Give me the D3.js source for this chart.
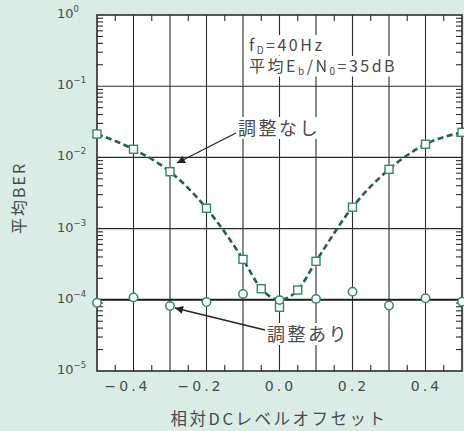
<!DOCTYPE html>
<html><head><meta charset="utf-8">
<script src="https://cdn.jsdelivr.net/npm/d3@7"></script>
<style>
html,body{margin:0;padding:0;background:#d9ece6;}
svg{display:block;}
</style></head>
<body>
<svg id="chart" width="464" height="431"></svg>
<script>
// ---- data ----
const xTickValues = [-0.4, -0.2, 0, 0.2, 0.4];
const xGridValues = [-0.4, -0.3, -0.2, -0.1, 0, 0.1, 0.2, 0.3, 0.4];
const yTickExponents = [0, -1, -2, -3, -4, -5];
const offsetsNoAdj = [-0.5, -0.4, -0.3, -0.2, -0.1, -0.05, 0, 0.05, 0.1, 0.2, 0.3, 0.4, 0.5];
const berNoAdj = [0.0213, 0.0130, 0.0063, 0.00193, 3.7e-4, 1.43e-4, 7.85e-5, 1.37e-4, 3.47e-4, 0.0020, 0.0068, 0.0153, 0.0225];
const fitNoAdj = [0.0213, 0.0130, 0.0063, 0.00193, 3.7e-4, 1.43e-4, 1.0e-4, 1.37e-4, 3.47e-4, 0.0020, 0.0068, 0.0153, 0.0225];
const offsetsAdj = [-0.5, -0.4, -0.3, -0.2, -0.1, 0, 0.1, 0.2, 0.3, 0.4, 0.5];
const berAdj = [9.1e-5, 1.08e-4, 8.2e-5, 9.3e-5, 1.21e-4, 9.9e-5, 1.03e-4, 1.30e-4, 8.3e-5, 1.05e-4, 9.4e-5];
const fitAdj = [1e-4, 1e-4];
const fitAdjOffsets = [-0.5, 0.5];
const labelNoAdj = "調整なし";
const labelAdj = "調整あり";
const xTitle = "相対DCレベルオフセット";
const yTitle = "平均BER";

// ---- layout ----
const L = 97, R = 462, T = 15, B = 371;
const svg = d3.select("#chart");
const x = d3.scaleLinear().domain([-0.5, 0.5]).range([L, R]);
const y = d3.scaleLog().domain([1e-5, 1]).range([B, T]);
const ink = "#2b2b2b";
const txt = "#4a4a4a";
const jp = "'Noto Sans CJK JP', 'Noto Sans', sans-serif";

svg.append("rect").attr("x", L).attr("y", T).attr("width", R - L).attr("height", B - T).attr("fill", "#fff");

// vertical grid lines
svg.append("g").selectAll("line").data(xGridValues).join("line")
  .attr("x1", d => x(d)).attr("x2", d => x(d)).attr("y1", T).attr("y2", B)
  .attr("stroke", ink).attr("stroke-width", 1.1);
// horizontal grid lines (decades)
svg.append("g").selectAll("line").data(yTickExponents.slice(1, -1)).join("line")
  .attr("x1", L).attr("x2", R).attr("y1", d => y(Math.pow(10, d))).attr("y2", d => y(Math.pow(10, d)))
  .attr("stroke", ink).attr("stroke-width", 1.1);

// minor x ticks at top and bottom
const xMinor = d3.range(-0.45, 0.5, 0.1);
svg.append("g").selectAll("line").data(xMinor).join("line")
  .attr("x1", d => x(d)).attr("x2", d => x(d)).attr("y1", B).attr("y2", B - 6)
  .attr("stroke", ink).attr("stroke-width", 1.1);
svg.append("g").selectAll("line").data(xMinor).join("line")
  .attr("x1", d => x(d)).attr("x2", d => x(d)).attr("y1", T).attr("y2", T + 6)
  .attr("stroke", ink).attr("stroke-width", 1.1);

// minor y ticks (log) left and right
const yMinor = [];
for (let e = -5; e < 0; e++) for (let m = 2; m <= 9; m++) yMinor.push(m * Math.pow(10, e));
svg.append("g").selectAll("line").data(yMinor).join("line")
  .attr("x1", L).attr("x2", L + 6)
  .attr("y1", d => y(d)).attr("y2", d => y(d))
  .attr("stroke", ink).attr("stroke-width", 1.1);
svg.append("g").selectAll("line").data(yMinor).join("line")
  .attr("x1", R).attr("x2", R - 6)
  .attr("y1", d => y(d)).attr("y2", d => y(d))
  .attr("stroke", ink).attr("stroke-width", 1.1);

// "with adjustment" level line
svg.append("path")
  .attr("d", d3.line().x((d, i) => x(fitAdjOffsets[i])).y(d => y(d))(fitAdj))
  .attr("fill", "none").attr("stroke", "#222").attr("stroke-width", 2);

// frame
svg.append("rect").attr("x", L).attr("y", T).attr("width", R - L).attr("height", B - T)
  .attr("fill", "none").attr("stroke", ink).attr("stroke-width", 1.6);

// annotation text with white knockout box (backgrounds drawn before all texts)
const bgLayer = svg.append("g");
const annLayer = svg.append("g");
function ann(xp, yp, size) {
  const bg = bgLayer.append("rect").attr("fill", "#fff");
  const t = annLayer.append("text").attr("x", xp).attr("y", yp)
    .attr("font-family", jp).attr("font-size", size).attr("fill", txt).attr("letter-spacing", 2.5);
  return {t, bg};
}
function fitBg(a) {
  const b = a.t.node().getBBox();
  a.bg.attr("x", b.x - 3).attr("y", b.y + 3).attr("width", b.width + 4).attr("height", b.height - 4);
}
const a1 = ann(249, 51, 16);
a1.t.append("tspan").text("f");
a1.t.append("tspan").attr("font-size", 10).attr("dy", 2.5).text("D");
a1.t.append("tspan").attr("dy", -2.5).text("=40Hz");
fitBg(a1);
const a2 = ann(249, 72, 16);
a2.t.append("tspan").text("平均E");
a2.t.append("tspan").attr("font-size", 10).attr("dy", 2.5).text("b");
a2.t.append("tspan").attr("dy", -2.5).text("/N");
a2.t.append("tspan").attr("font-size", 10).attr("dy", 2.5).text("0");
a2.t.append("tspan").attr("dy", -2.5).text("=35dB");
fitBg(a2);
const a3 = ann(238, 135, 18); a3.t.text(labelNoAdj); fitBg(a3);
const a4 = ann(267, 341, 18); a4.t.text(labelAdj); fitBg(a4);

// arrows
svg.append("defs").append("marker").attr("id", "ah").attr("viewBox", "0 0 10 10")
  .attr("refX", 10).attr("refY", 5).attr("markerWidth", 12).attr("markerHeight", 8)
  .attr("markerUnits", "userSpaceOnUse").attr("orient", "auto")
  .append("path").attr("d", "M0,0 L10,5 L0,10 Z").attr("fill", "#222");
svg.append("line").attr("x1", 236).attr("y1", 133).attr("x2", 177).attr("y2", 163)
  .attr("stroke", "#222").attr("stroke-width", 1.3).attr("marker-end", "url(#ah)");
svg.append("line").attr("x1", 265).attr("y1", 330).attr("x2", 175).attr("y2", 308)
  .attr("stroke", "#222").attr("stroke-width", 1.3).attr("marker-end", "url(#ah)");

// dashed fitted curve (no adjustment)
svg.append("path")
  .attr("d", d3.line().x((d, i) => x(offsetsNoAdj[i])).y(d => y(d)).curve(d3.curveMonotoneX)(fitNoAdj))
  .attr("fill", "none").attr("stroke", "#1d6646").attr("stroke-width", 2.6)
  .attr("stroke-dasharray", "6,3.5");

// markers
const mk = "#2f8a5c";
svg.append("g").selectAll("rect").data(berNoAdj).join("rect")
  .attr("x", (d, i) => x(offsetsNoAdj[i]) - 4).attr("y", d => y(d) - 4)
  .attr("width", 8).attr("height", 8)
  .attr("fill", "#fff").attr("stroke", mk).attr("stroke-width", 1.4);
svg.append("g").selectAll("circle").data(berAdj).join("circle")
  .attr("cx", (d, i) => x(offsetsAdj[i])).attr("cy", d => y(d)).attr("r", 4.2)
  .attr("fill", "#fff").attr("stroke", mk).attr("stroke-width", 1.5);

// x tick labels
svg.append("g").selectAll("text").data(xTickValues).join("text")
  .attr("x", d => x(d) + (d < 0 ? -6 : 1)).attr("y", 391)
  .attr("text-anchor", "middle").attr("font-family", "'DejaVu Sans', sans-serif")
  .attr("font-size", 14).attr("letter-spacing", 3).attr("fill", txt)
  .text(d => (d < 0 ? "\u2212" : "") + Math.abs(d).toFixed(1));

// y tick labels
const yl = svg.append("g").selectAll("text").data(yTickExponents).join("text")
  .attr("x", 57).attr("y", d => y(Math.pow(10, d)) + 3)
  .attr("font-family", "'DejaVu Sans', sans-serif").attr("font-size", 13).attr("fill", txt);
yl.append("tspan").text("10");
yl.append("tspan").attr("font-size", 8.5).attr("dy", -6).text(d => d === 0 ? "0" : "\u2212" + Math.abs(d));

// axis titles
svg.append("text").attr("x", 279).attr("y", 425).attr("text-anchor", "middle")
  .attr("font-family", jp).attr("font-size", 16.5).attr("letter-spacing", 2.5).attr("fill", txt).text(xTitle);
svg.append("text").attr("transform", "translate(25,198) rotate(-90)").attr("text-anchor", "middle")
  .attr("font-family", jp).attr("font-size", 16).attr("letter-spacing", 2).attr("fill", txt).text(yTitle);
</script>
</body></html>
